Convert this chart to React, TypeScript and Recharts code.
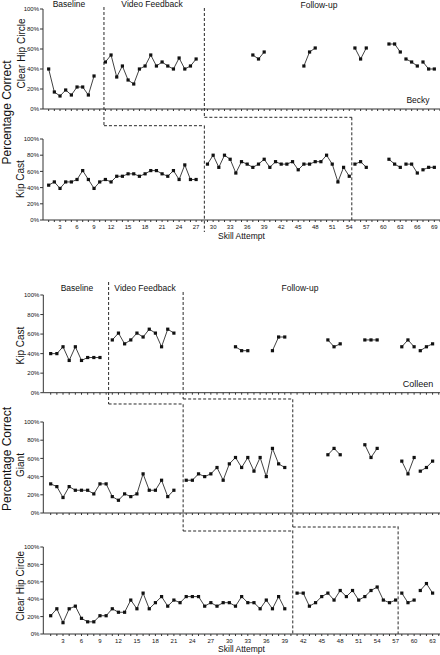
import React from 'react';
import { LineChart, Line, XAxis, YAxis, ReferenceLine } from 'recharts';

// ---- Becky: Clear Hip Circle (% correct per skill attempt) ----
const beckyHipBaseline = [40, 17, 13, 19, 14, 22, 22, 14, 33]; // attempts 1-9
const beckyHipVideo = [47, 54, 32, 43, 29, 25, 40, 43, 54, 43, 47, 43, 40, 51, 40, 43, 50]; // 11-27
const beckyHipFollowStarts = [37, 46, 55, 61, 64, 67];
const beckyHipFollow = [
  [54, 50, 57],
  [43, 57, 61],
  [61, 50, 61],
  [65, 65, 57],
  [50, 47, 43],
  [47, 40, 40],
];

// ---- Becky: Kip Cast ----
const beckyKipBaseline = [43, 47, 39, 47, 47, 50, 61, 50, 39, 47, 50, 47, 54, 54, 57, 57, 54, 57, 61, 61, 57, 54, 61, 50, 68, 50, 50]; // 1-27
const beckyKipVideo = [69, 80, 65, 80, 75, 58, 72, 69, 65, 69, 75, 65, 72, 69, 69, 72, 62, 69, 69, 72, 72, 80, 69, 47, 65, 54]; // 29-54
const beckyKipFollowStarts = [55, 61, 64, 67];
const beckyKipFollow = [
  [69, 72, 65],
  [75, 69, 65],
  [69, 69, 58],
  [62, 65, 65],
];

// ---- Colleen: Kip Cast ----
const colleenKipBaseline = [40, 40, 47, 33, 47, 33, 36, 36, 36]; // 1-9
const colleenKipVideo = [54, 61, 50, 54, 61, 57, 65, 61, 47, 65, 61]; // 11-21
const colleenKipFollowStarts = [31, 37, 46, 52, 58, 61];
const colleenKipFollow = [
  [47, 43, 43],
  [43, 57, 57],
  [54, 47, 50],
  [54, 54, 54],
  [47, 54, 47],
  [43, 47, 50],
];

// ---- Colleen: Giant ----
const colleenGiantBaseline = [32, 29, 17, 29, 25, 25, 25, 21, 32, 32, 18, 14, 21, 18, 21, 43, 25, 25, 36, 18, 25]; // 1-21
const colleenGiantVideo = [36, 36, 43, 40, 43, 50, 36, 54, 61, 50, 61, 46, 61, 40, 71, 54, 50]; // 23-39
const colleenGiantFollowStarts = [46, 52, 58, 61];
const colleenGiantFollow = [
  [64, 71, 64],
  [75, 61, 71],
  [57, 43, 61],
  [46, 50, 57],
];

// ---- Colleen: Clear Hip Circle ----
const colleenHipBaseline = [
  21, 29, 13, 29, 32, 18, 14, 14, 21, 21, 29, 25, 25, 39, 29, 47, 29, 36, 43, 32,
  39, 36, 43, 43, 43, 32, 36, 32, 36, 36, 32, 43, 36, 36, 29, 39, 29, 43, 29,
]; // 1-39
const colleenHipVideo = [47, 47, 32, 36, 43, 47, 39, 50, 43, 50, 39, 43, 50, 54, 39, 36, 39]; // 41-57
const colleenHipFollowStarts = [58, 61];
const colleenHipFollow = [
  [47, 36, 39],
  [50, 58, 47],
];

const yTicks = [0, 20, 40, 60, 80, 100];
const beckyTicks = Array.from({ length: 70 }, (_, i) => i + 1);
const colleenTicks = Array.from({ length: 64 }, (_, i) => i + 1);

type Run = { start: number; values: number[] };
type Phase = { x: number; from: number; to: number; toX?: number };

const FONT = '"Liberation Sans", Arial, sans-serif';
const INK = '#111';

function runs(pairs: [number, number[]][]): Run[] {
  return pairs.map(([start, values]) => ({ start, values }));
}

function follow(starts: number[], values: number[][]): [number, number[]][] {
  return starts.map((s, i) => [s, values[i]] as [number, number[]]);
}

const Square = (p: any) => {
  if (p.cx == null || p.cy == null) return <g key={p.index} />;
  return <rect key={p.index} x={p.cx - 1.6} y={p.cy - 1.6} width={3.2} height={3.2} fill={INK} />;
};

interface PanelProps {
  yTop: number; // page y of 100%
  yBot: number; // page y of 0%
  plotLeft: number;
  domain: [number, number];
  ticks: number[];
  labels?: boolean;
  series: Run[];
  phases: Phase[];
}

const PAD = 4;
const XH = 16;

function Panel({ yTop, yBot, plotLeft, domain, ticks, labels = false, series, phases }: PanelProps) {
  // page y -> percent value on this panel's scale
  const v = (py: number) => ((yBot - py) / (yBot - yTop)) * 100;
  const dash = { stroke: INK, strokeWidth: 0.9, strokeDasharray: '3 2', ifOverflow: 'visible' as const };

  return (
    <div style={{ position: 'absolute', left: 0, top: yTop - PAD }}>
      <LineChart width={440} height={PAD + (yBot - yTop) + XH} margin={{ top: PAD, right: 0, bottom: 0, left: 0 }}>
        <XAxis
          type="number"
          dataKey="x"
          domain={domain}
          ticks={ticks}
          interval={0}
          allowDataOverflow
          height={XH}
          tickSize={2}
          tickMargin={3}
          stroke="#333"
          tick={(p: any) =>
            labels && p.payload.value % 3 === 0 ? (
              <text x={p.x} y={p.y} dy="0.71em" textAnchor="middle" fontSize={6} fill={INK} fontFamily={FONT}>
                {p.payload.value}
              </text>
            ) : (
              <g />
            )
          }
        />
        <YAxis
          type="number"
          domain={[0, 100]}
          ticks={yTicks}
          interval={0}
          width={plotLeft}
          tickSize={3}
          tickMargin={1}
          stroke="#333"
          tickFormatter={(t: number) => `${t}%`}
          tick={{ fontSize: 6, fill: INK, fontFamily: FONT }}
        />
        {phases.map((ph, i) => (
          <ReferenceLine key={`v${i}`} segment={[{ x: ph.x, y: v(ph.from) }, { x: ph.x, y: v(ph.to) }]} {...dash} />
        ))}
        {phases
          .filter((ph) => ph.toX != null)
          .map((ph, i) => (
            <ReferenceLine key={`h${i}`} segment={[{ x: ph.x, y: v(ph.to) }, { x: ph.toX as number, y: v(ph.to) }]} {...dash} />
          ))}
        {series.map((r, i) => (
          <Line
            key={i}
            data={r.values.map((y, j) => ({ x: r.start + j, y }))}
            dataKey="y"
            stroke={INK}
            strokeWidth={0.8}
            dot={Square}
            activeDot={false}
            isAnimationActive={false}
          />
        ))}
      </LineChart>
    </div>
  );
}

const VLabel = ({ x, y, size, children }: { x: number; y: number; size: number; children: string }) => (
  <text
    x={x}
    y={y}
    transform={`rotate(-90 ${x} ${y})`}
    textAnchor="middle"
    dominantBaseline="central"
    fontSize={size}
    fill={INK}
    fontFamily={FONT}
  >
    {children}
  </text>
);

const HLabel = ({ x, y, size = 8.5, children }: { x: number; y: number; size?: number; children: string }) => (
  <text x={x} y={y} textAnchor="middle" fontSize={size} fill={INK} fontFamily={FONT}>
    {children}
  </text>
);

export default function App() {
  const becky = { plotLeft: 43, domain: [0, 70] as [number, number], ticks: beckyTicks };
  const colleen = { plotLeft: 43.3, domain: [-0.2, 64.2] as [number, number], ticks: colleenTicks };

  return (
    <div style={{ position: 'absolute', left: 0, top: 0, width: 440, height: 655, background: '#fff', overflow: 'hidden' }}>
      <style>{'.recharts-surface{overflow:visible !important}'}</style>

      <Panel
        {...becky}
        yTop={9}
        yBot={109}
        series={runs([[1, beckyHipBaseline], [11, beckyHipVideo], ...follow(beckyHipFollowStarts, beckyHipFollow)])}
        phases={[
          { x: 10.75, from: 7, to: 125.7, toX: 28.45 },
          { x: 28.45, from: 8, to: 117.3, toX: 54.45 },
        ]}
      />
      <Panel
        {...becky}
        yTop={139}
        yBot={220}
        labels
        series={runs([[1, beckyKipBaseline], [29, beckyKipVideo], ...follow(beckyKipFollowStarts, beckyKipFollow)])}
        phases={[
          { x: 28.45, from: 125.7, to: 232 },
          { x: 54.45, from: 117.3, to: 222 },
        ]}
      />

      <Panel
        {...colleen}
        yTop={295}
        yBot={392.7}
        series={runs([[1, colleenKipBaseline], [11, colleenKipVideo], ...follow(colleenKipFollowStarts, colleenKipFollow)])}
        phases={[
          { x: 10.4, from: 282, to: 404, toX: 22.5 },
          { x: 22.5, from: 292, to: 399, toX: 40.3 },
        ]}
      />
      <Panel
        {...colleen}
        yTop={421.7}
        yBot={512.7}
        series={runs([[1, colleenGiantBaseline], [23, colleenGiantVideo], ...follow(colleenGiantFollowStarts, colleenGiantFollow)])}
        phases={[
          { x: 22.5, from: 404, to: 530.7, toX: 40.3 },
          { x: 40.3, from: 399, to: 526.7, toX: 57.4 },
        ]}
      />
      <Panel
        {...colleen}
        yTop={547.3}
        yBot={634.3}
        labels
        series={runs([[1, colleenHipBaseline], [41, colleenHipVideo], ...follow(colleenHipFollowStarts, colleenHipFollow)])}
        phases={[
          { x: 40.3, from: 530.7, to: 634.3 },
          { x: 57.4, from: 526.7, to: 634.3 },
        ]}
      />

      <svg width={440} height={655} style={{ position: 'absolute', left: 0, top: 0, pointerEvents: 'none' }}>
        <HLabel x={69} y={7}>Baseline</HLabel>
        <HLabel x={152} y={7}>Video Feedback</HLabel>
        <HLabel x={319} y={7.5}>Follow-up</HLabel>
        <HLabel x={418} y={103}>Becky</HLabel>
        <HLabel x={241.5} y={238.5}>Skill Attempt</HLabel>
        <VLabel x={7} y={112.5} size={12}>Percentage Correct</VLabel>
        <VLabel x={21.5} y={53.5} size={10}>Clear Hip Circle</VLabel>
        <VLabel x={20.5} y={179} size={10}>Kip Cast</VLabel>

        <HLabel x={77} y={291}>Baseline</HLabel>
        <HLabel x={145} y={291}>Video Feedback</HLabel>
        <HLabel x={300} y={291}>Follow-up</HLabel>
        <HLabel x={418} y={386.5} size={9}>Colleen</HLabel>
        <VLabel x={7} y={459} size={12}>Percentage Correct</VLabel>
        <VLabel x={20.7} y={345.5} size={10}>Kip Cast</VLabel>
        <VLabel x={20.7} y={465} size={10}>Giant</VLabel>
        <VLabel x={20.7} y={586} size={10}>Clear Hip Circle</VLabel>
        <HLabel x={241.5} y={652}>Skill Attempt</HLabel>
      </svg>
    </div>
  );
}
